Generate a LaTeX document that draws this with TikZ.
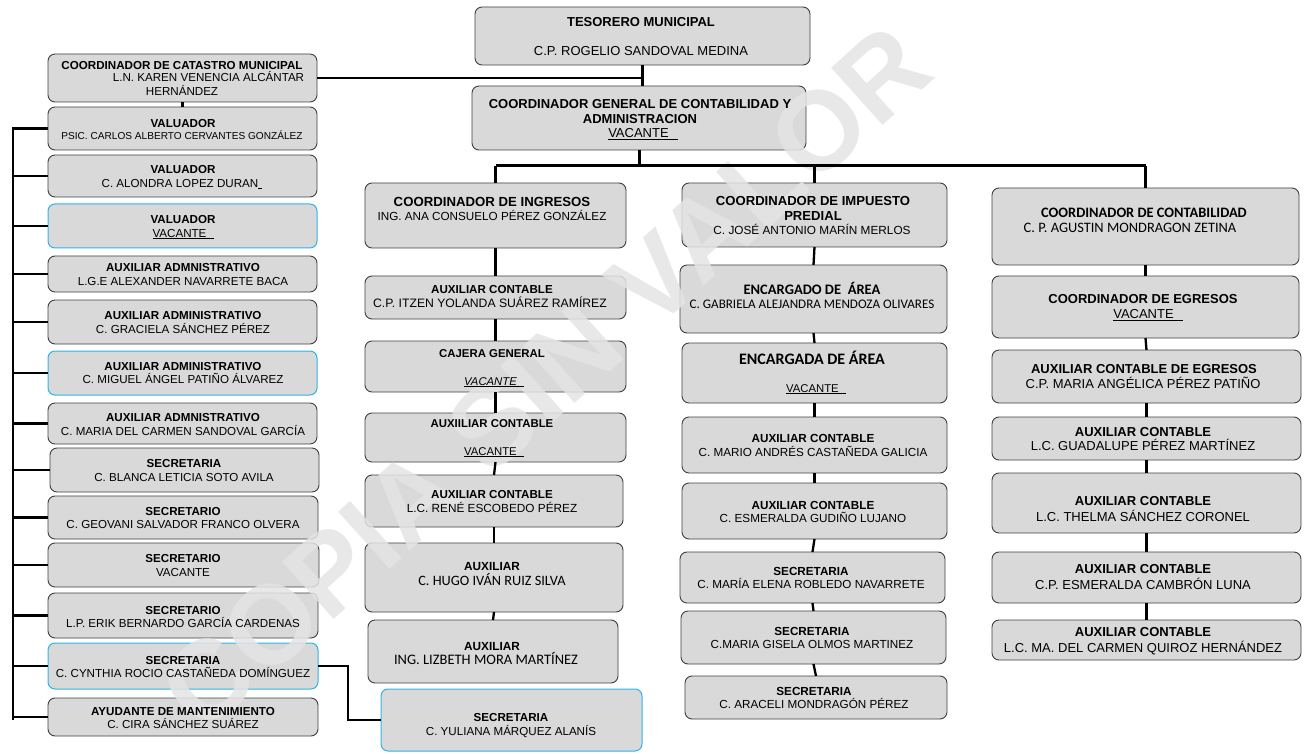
\documentclass[tikz,border=0pt]{standalone}
\usepackage{fontspec}
\setmainfont{Liberation Sans}
\newfontfamily\carl{Carlito}
\usetikzlibrary{fit}
\definecolor{boxfill}{HTML}{D9D9D9}
\definecolor{boxline}{HTML}{404040}
\definecolor{cyanline}{HTML}{2DB4E8}
\definecolor{wmark}{HTML}{E4E4E4}
\newcounter{tln}
\tikzset{
  box/.style={rectangle, rounded corners=7pt, fill=boxfill, draw=boxline, line width=0.9pt, inner sep=0pt, outer sep=0pt},
  bluebox/.style={box, draw=cyanline, line width=1pt},
  lab/.style={anchor=base, inner sep=0pt, outer sep=0pt, text=black},
  conn/.style={line width=2.3pt, black},
  bus/.style={line width=3pt, black},
}
\newcommand\TB[4]{\stepcounter{tln}\node[lab,font=\bfseries\fontsize{#3}{#3}\selectfont] (tx\arabic{tln}) at (#1,{#2+0.36*#3}) {#4};}
\newcommand\TR[4]{\stepcounter{tln}\node[lab,font=\fontsize{#3}{#3}\selectfont] (tx\arabic{tln}) at (#1,{#2+0.36*#3}) {#4};}
\newcommand\CB[4]{\stepcounter{tln}\node[lab,font=\carl\bfseries\fontsize{#3}{#3}\selectfont] (tx\arabic{tln}) at (#1,{#2+0.32*#3}) {#4};}
\newcommand\CR[4]{\stepcounter{tln}\node[lab,font=\carl\fontsize{#3}{#3}\selectfont] (tx\arabic{tln}) at (#1,{#2+0.32*#3}) {#4};}
\begin{document}
\begin{tikzpicture}[x=1pt,y=-1pt]
\useasboundingbox (0,0) rectangle (1307,754);
% ---------- boxes ----------
\node[box, fit={(475,7) (810,65)}] (tes) {};
\node[box, fit={(472,86) (806,150)}] (cg) {};
% left column
\node[box, fit={(48,54) (317,102)}] (cat) {};
\node[box, fit={(48,107) (317,150)}] (val1) {};
\node[box, fit={(48,155) (317,197)}] (val2) {};
\node[bluebox, fit={(48,204) (317,248)}] (val3) {};
\node[box, fit={(48,256) (317,292)}] (adm1) {};
\node[box, fit={(48,300) (317,344)}] (adm2) {};
\node[bluebox, fit={(48,351) (317,395)}] (adm3) {};
\node[box, fit={(48,403) (317,444)}] (adm4) {};
\node[box, fit={(50,448) (319,492)}] (sec1) {};
\node[box, fit={(48,496) (318,539)}] (sec2) {};
\node[box, fit={(48,543) (319,587)}] (sec3) {};
\node[box, fit={(48,593) (318,638)}] (sec4) {};
\node[bluebox, fit={(48,643) (318,689)}] (sec5) {};
\node[box, fit={(48,698) (318,736)}] (ayu) {};
% ingresos column
\node[box, fit={(365,183) (626,248)}] (ing) {};
\node[box, fit={(365,276) (626,319)}] (ic1) {};
\node[box, fit={(365,341) (626,392)}] (caj) {};
\node[box, fit={(365,413) (626,462)}] (ic2) {};
\node[box, fit={(365,475) (623,527)}] (ic3) {};
\node[box, fit={(365,543) (623,612)}] (aux1) {};
\node[box, fit={(368,620) (618,683)}] (aux2) {};
\node[bluebox, fit={(381,689) (642,751)}] (yul) {};
% predial column
\node[box, fit={(682,183) (947,247)}] (pre) {};
\node[box, fit={(680,265) (947,333)}] (enc1) {};
\node[box, fit={(682,343) (947,403)}] (enc2) {};
\node[box, fit={(682,417) (947,473)}] (pc1) {};
\node[box, fit={(682,483) (947,539)}] (pc2) {};
\node[box, fit={(680,552) (945,603)}] (ps1) {};
\node[box, fit={(681,611) (946,664)}] (ps2) {};
\node[box, fit={(685,676) (947,719)}] (ps3) {};
% contabilidad column
\node[box, fit={(992,188) (1299,265)}] (con) {};
\node[box, fit={(992,276) (1299,338)}] (egr) {};
\node[box, fit={(992,350) (1301,403)}] (ae) {};
\node[box, fit={(992,417) (1301,460)}] (rc1) {};
\node[box, fit={(992,473) (1301,533)}] (rc2) {};
\node[box, fit={(992,552) (1301,603)}] (rc3) {};
\node[box, fit={(992,620) (1301,660)}] (rc4) {};
% ---------- watermark ----------
\node[rotate=42, text=wmark, opacity=0.85, inner sep=0pt, font=\bfseries\fontsize{112}{112}\selectfont] (wm) at (545,378) {COPIA SIN VALOR};
% ---------- connectors ----------
\draw[conn] (tes.south) -- (tes.south |- cg.north);
\draw[conn] (cat.east) -- (cat.east -| tes.south);
\draw[conn] (cat.south) -- (val1.north);
\coordinate (lbt) at (13,127);
\coordinate (lbb) at (13,720);
\draw[conn] (lbt) -- (lbb);
\foreach \b in {val1,val2,val3,adm1,adm2,adm3,adm4,sec1,sec2,sec3,sec4,sec5,ayu}
  \draw[conn] (\b.west) -- (\b.west -| lbt);
\coordinate (hb) at (637,166);
\draw[bus] (cg.south) -- (cg.south |- hb);
\draw[bus] (ing.north |- hb) -- (con.north |- hb);
\draw[bus] (ing.north |- hb) -- (ing.north);
\draw[bus] (pre.north |- hb) -- (pre.north);
\draw[bus] (con.north |- hb) -- (con.north);
\draw[conn] (ing.south) -- (ic1.north);
\draw[conn] (ic1.south) -- (caj.north);
\draw[conn] (caj.south) -- (ic2.north);
\draw[conn] (ic2.south) -- (ic3.north);
\draw[conn] (ic3.south) -- (aux1.north);
\draw[conn] (aux1.south) -- (aux2.north);
\coordinate (yb) at (348,700);
\draw[conn] (sec5.east) -| (yb) |- (yul.west);
\draw[conn] (pre.south) -- (enc1.north);
\draw[conn] (enc1.south) -- (enc2.north);
\draw[conn] (enc2.south) -- (pc1.north);
\draw[conn] (pc1.south) -- (pc2.north);
\draw[conn] (pc2.south) -- (ps1.north);
\draw[conn] (ps1.south) -- (ps2.north);
\draw[conn] (ps2.south) -- (ps3.north);
\draw[conn] (con.south) -- (egr.north);
\draw[conn] (egr.south) -- (ae.north);
\draw[conn] (ae.south) -- (rc1.north);
\draw[conn] (rc1.south) -- (rc2.north);
\draw[conn] (rc2.south) -- (rc3.north);
\draw[conn] (rc3.south) -- (rc4.north);
% ---------- texts ----------
\TB{641}{21.5}{13}{TESORERO MUNICIPAL}
\TR{641}{50.5}{13}{C.P. ROGELIO SANDOVAL MEDINA}
\TB{640}{104}{13}{COORDINADOR GENERAL DE CONTABILIDAD Y}
\TB{640}{119}{13}{ADMINISTRACION}
\TR{643}{133}{13}{\underline{VACANTE\hspace{9pt}}}
% left
\TB{182}{65}{11.6}{COORDINADOR DE CATASTRO MUNICIPAL}
\TR{208.5}{77.5}{11.6}{L.N. KAREN VENENCIA ALCÁNTAR}
\TR{182}{91}{11.6}{HERNÁNDEZ}
\TB{183}{123}{11.6}{VALUADOR}
\TR{182}{136}{10.1}{PSIC. CARLOS ALBERTO CERVANTES GONZÁLEZ}
\TB{183}{169}{11.6}{VALUADOR}
\TR{182}{183}{11.6}{C. ALONDRA LOPEZ DURAN\underline{\hspace{4pt}}}
\TB{183}{219}{11.6}{VALUADOR}
\TR{183.5}{233}{11.6}{\underline{VACANTE\hspace{8pt}}}
\TB{183}{267}{11.6}{AUXILIAR ADMNISTRATIVO}
\TR{183}{281}{11.6}{L.G.E ALEXANDER NAVARRETE BACA}
\TB{183}{315}{11.6}{AUXILIAR ADMINISTRATIVO}
\TR{183}{329}{11.6}{C. GRACIELA SÁNCHEZ PÉREZ}
\TB{183}{366}{11.6}{AUXILIAR ADMINISTRATIVO}
\TR{183}{379}{11.6}{C. MIGUEL ÁNGEL PATIÑO ÁLVAREZ}
\TB{183}{417}{11.6}{AUXILIAR ADMNISTRATIVO}
\TR{183}{431}{11.6}{C. MARIA DEL CARMEN SANDOVAL GARCÍA}
\TB{184}{463}{11.6}{SECRETARIA}
\TR{184}{477}{11.6}{C. BLANCA LETICIA SOTO AVILA}
\TB{183}{511}{11.6}{SECRETARIO}
\TR{183}{524}{11.6}{C. GEOVANI SALVADOR FRANCO OLVERA}
\TB{183}{558}{11.6}{SECRETARIO}
\TR{183}{572}{11.6}{VACANTE}
\TB{183}{610}{11.6}{SECRETARIO}
\TR{183}{623}{11.6}{L.P. ERIK BERNARDO GARCÍA CARDENAS}
\TB{183}{660}{11.6}{SECRETARIA}
\TR{183}{673}{11.6}{C. CYNTHIA ROCIO CASTAÑEDA DOMÍNGUEZ}
\TB{183}{711}{11.6}{AYUDANTE DE MANTENIMIENTO}
\TR{183}{724}{11.6}{C. CIRA SÁNCHEZ SUÁREZ}
% ingresos
\TB{492}{201.5}{13.2}{COORDINADOR DE INGRESOS}
\TR{492}{216}{11.7}{ING. ANA CONSUELO PÉREZ GONZÁLEZ}
\TB{492}{289}{11.6}{AUXILIAR CONTABLE}
\TR{490}{303}{12.2}{C.P. ITZEN YOLANDA SUÁREZ RAMÍREZ}
\TB{492}{353}{11.4}{CAJERA GENERAL}
\TR{494}{381}{11.3}{\underline{\textit{VACANTE}\hspace{7pt}}}
\TB{492}{423.5}{11.4}{AUXIILIAR CONTABLE}
\TR{494}{451}{11.3}{\underline{VACANTE\hspace{7pt}}}
\TB{492}{494}{11.6}{AUXILIAR CONTABLE}
\TR{492}{508}{11.8}{L.C. RENÉ ESCOBEDO PÉREZ}
\TB{492}{566}{11.8}{AUXILIAR}
\CR{492}{581}{14.3}{C. HUGO IVÁN RUIZ SILVA}
\TB{492}{646}{11.8}{AUXILIAR}
\CR{486}{660}{14.5}{ING. LIZBETH MORA MARTÍNEZ}
\TB{511}{717}{11.6}{SECRETARIA}
\TR{511}{731}{11.6}{C. YULIANA MÁRQUEZ ALANÍS}
% predial
\TB{813}{201}{13.1}{COORDINADOR DE IMPUESTO}
\TB{813}{215.5}{13.1}{PREDIAL}
\TR{812}{230}{11.8}{C. JOSÉ ANTONIO MARÍN MERLOS}
\CB{812}{290}{14.5}{ENCARGADO DE\ \ ÁREA}
\CR{812}{304}{13.1}{C. GABRIELA ALEJANDRA MENDOZA OLIVARES}
\CB{812}{359}{16}{ENCARGADA DE ÁREA}
\TR{816}{388}{11.3}{\underline{VACANTE\hspace{7pt}}}
\TB{813}{438}{11.7}{AUXILIAR CONTABLE}
\TR{813}{452}{11.7}{C. MARIO ANDRÉS CASTAÑEDA GALICIA}
\TB{813}{505}{11.7}{AUXILIAR CONTABLE}
\TR{813}{518}{11.7}{C. ESMERALDA GUDIÑO LUJANO}
\TB{811}{571}{11.7}{SECRETARIA}
\TR{811}{584}{11.7}{C. MARÍA ELENA ROBLEDO NAVARRETE}
\TB{812}{631}{11.7}{SECRETARIA}
\TR{812}{644}{11.7}{C.MARIA GISELA OLMOS MARTINEZ}
\TB{814}{691}{11.7}{SECRETARIA}
\TR{814}{704}{11.7}{C. ARACELI MONDRAGÓN PÉREZ}
% contabilidad
\CB{1144}{213}{14.4}{COORDINADOR DE CONTABILIDAD}
\CR{1130}{228}{14.4}{C. P. AGUSTIN MONDRAGON ZETINA}
\TB{1143}{299}{13}{COORDINADOR DE EGRESOS}
\TR{1148}{314}{13}{\underline{VACANTE\hspace{9pt}}}
\TB{1144}{369}{13}{AUXILIAR CONTABLE DE EGRESOS}
\TR{1143}{384}{13}{C.P. MARIA ANGÉLICA PÉREZ PATIÑO}
\TB{1143}{432}{13}{AUXILIAR CONTABLE}
\TR{1143}{446}{13}{L.C. GUADALUPE PÉREZ MARTÍNEZ}
\TB{1143}{501}{13}{AUXILIAR CONTABLE}
\TR{1143}{517}{13}{L.C. THELMA SÁNCHEZ CORONEL}
\TB{1143}{569}{13}{AUXILIAR CONTABLE}
\TR{1143}{585}{13}{C.P. ESMERALDA CAMBRÓN LUNA}
\TB{1143}{632}{13}{AUXILIAR CONTABLE}
\TR{1143}{648}{13}{L.C. MA. DEL CARMEN QUIROZ HERNÁNDEZ}
\end{tikzpicture}
\end{document}
